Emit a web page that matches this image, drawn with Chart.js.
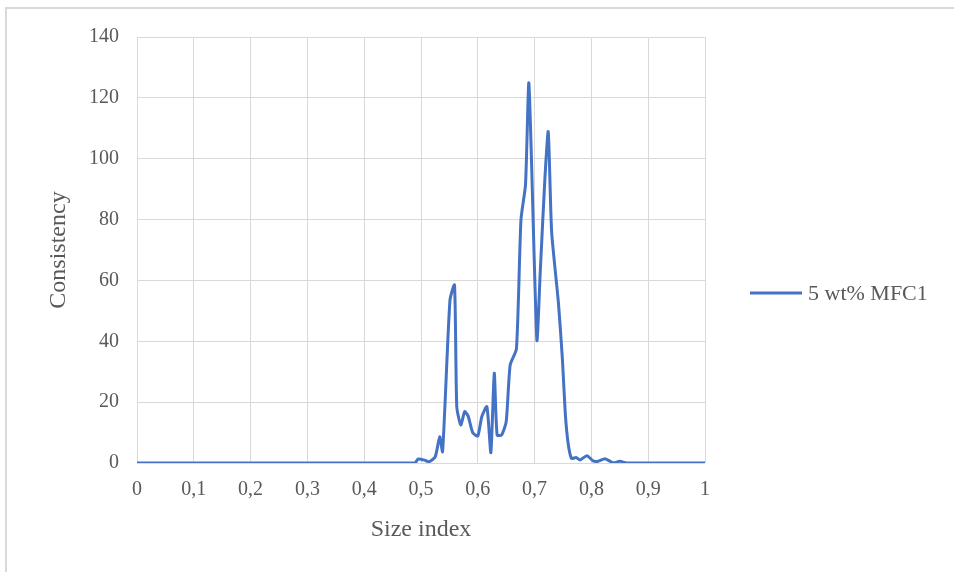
<!DOCTYPE html>
<html>
<head>
<meta charset="utf-8">
<script src="https://cdn.jsdelivr.net/npm/chart.js@4.4.1/dist/chart.umd.min.js"></script>
<style>
  html, body { margin: 0; padding: 0; background: #fff; }
  #wrap { position: relative; width: 954px; height: 572px; overflow: hidden; }
  #frame { position: absolute; left: 5px; top: 7px; width: 1000px; height: 600px;
           border-left: 2px solid #d9d9d9; border-top: 2px solid #d9d9d9; box-sizing: border-box; }
  canvas { position: absolute; left: 0; top: 0; }
</style>
</head>
<body>
<div id="wrap">
  <div id="frame"></div>
  <canvas id="chart" width="954" height="572"></canvas>
</div>
<script>
// Size index (x) and consistency (y) for the 5 wt% MFC1 sample
const sizeIndex = [0, 0.489, 0.495, 0.507, 0.514, 0.525, 0.533, 0.538, 0.551, 0.559, 0.563, 0.570,
  0.577, 0.583, 0.591, 0.600, 0.607, 0.616, 0.623, 0.629, 0.634, 0.642, 0.650, 0.657, 0.668,
  0.676, 0.684, 0.690, 0.704, 0.710, 0.718, 0.724, 0.730, 0.742, 0.749, 0.754, 0.759, 0.765,
  0.773, 0.780, 0.792, 0.803, 0.812, 0.824, 0.839, 0.850, 0.862, 1];
const consistency = [0, 0, 1.3, 0.9, 0.4, 2.0, 8.6, 3.7, 53.5, 58.5, 18.5, 12.5,
  16.9, 15.4, 10.0, 8.9, 15.2, 18.5, 3.4, 29.5, 9.2, 9.2, 13.6, 32.2, 37.5,
  80.0, 91.5, 124.8, 40.4, 63.0, 93.0, 108.9, 76.0, 52.5, 34.0, 16.3, 6.5, 1.5,
  1.8, 1.0, 2.4, 0.7, 0.6, 1.4, 0, 0.6, 0, 0];
const seriesName = '5 wt% MFC1';
const xTitle = 'Size index';
const yTitle = 'Consistency';

const points = sizeIndex.map((x, i) => ({ x: x, y: consistency[i] }));
const lineColor = '#4472C4';
const textColor = '#595959';
const fontFamily = '"Liberation Serif", "Times New Roman", serif';

// Legend entry drawn at the right of the plot
const sideLegend = {
  id: 'sideLegend',
  afterDraw(chart) {
    const ctx = chart.ctx;
    const y = 293;
    ctx.save();
    ctx.strokeStyle = lineColor;
    ctx.lineWidth = 3;
    ctx.beginPath();
    ctx.moveTo(750, y);
    ctx.lineTo(802, y);
    ctx.stroke();
    ctx.fillStyle = textColor;
    ctx.font = '22px ' + fontFamily;
    ctx.textBaseline = 'middle';
    ctx.fillText(seriesName, 808, y + 1);
    ctx.restore();
  }
};

new Chart(document.getElementById('chart'), {
  type: 'line',
  data: {
    datasets: [{
      label: seriesName,
      data: points,
      borderColor: lineColor,
      backgroundColor: lineColor,
      borderWidth: 3,
      pointRadius: 0,
      tension: 0.2,
      fill: false
    }]
  },
  options: {
    responsive: false,
    animation: false,
    layout: { padding: { left: 44, top: 37, right: 249, bottom: 28 } },
    plugins: { legend: { display: false }, tooltip: { enabled: false } },
    scales: {
      x: {
        type: 'linear',
        min: 0, max: 1,
        afterFit(scale) { scale.height = 81; },
        ticks: {
          stepSize: 0.1,
          color: textColor,
          font: { family: fontFamily, size: 20 },
          padding: 15,
          maxRotation: 0,
          callback: v => (Math.round(v * 10) / 10).toString().replace('.', ',')
        },
        grid: { color: '#d9d9d9', lineWidth: 1, drawTicks: false },
        border: { display: false },
        title: {
          display: true, text: xTitle, color: textColor,
          font: { family: fontFamily, size: 24 }, padding: { top: 0, bottom: 0 }
        }
      },
      y: {
        min: 0, max: 140,
        afterFit(scale) { scale.width = 93; },
        ticks: {
          stepSize: 20,
          color: textColor,
          font: { family: fontFamily, size: 20 },
          padding: 18
        },
        grid: { color: '#d9d9d9', lineWidth: 1, drawTicks: false },
        border: { display: false },
        title: {
          display: true, text: yTitle, color: textColor,
          font: { family: fontFamily, size: 24 }, padding: { top: 0, bottom: 0 }
        }
      }
    }
  },
  plugins: [sideLegend]
});
</script>
</body>
</html>
